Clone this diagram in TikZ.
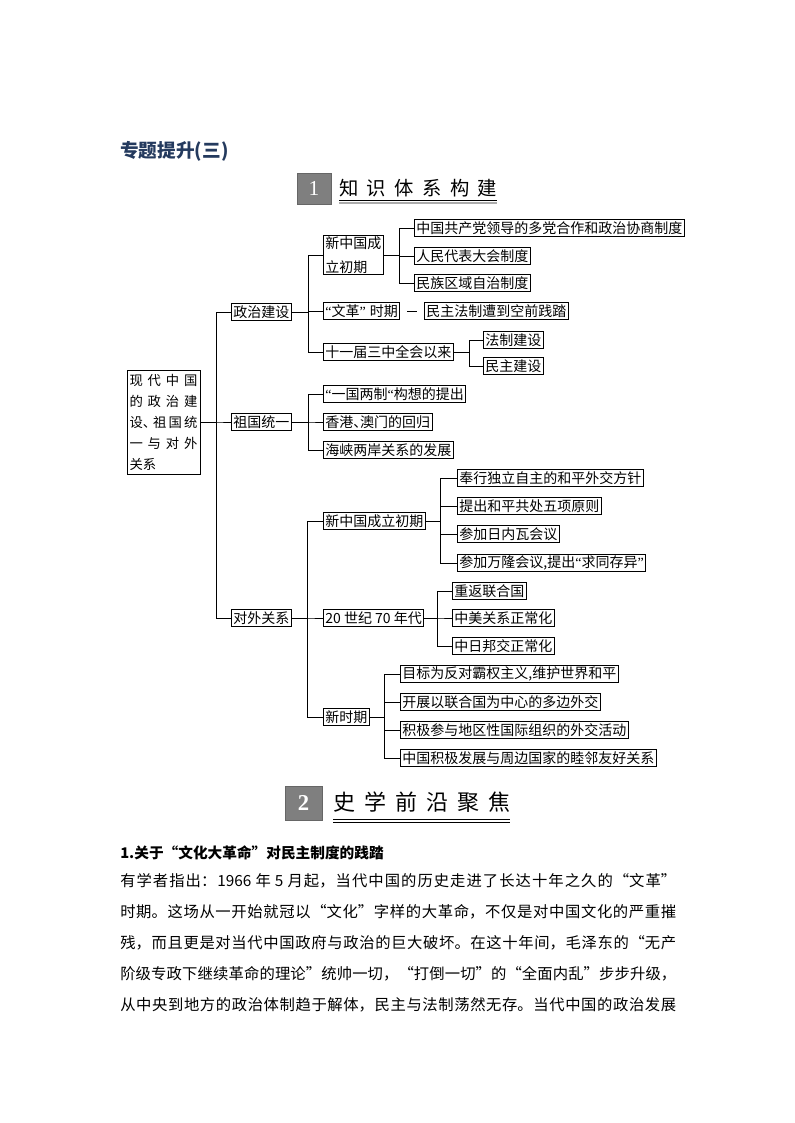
\documentclass[tikz,border=0pt]{standalone}
\usepackage{fontspec}
\setmainfont{Noto Sans CJK SC}
\newfontfamily\numfont{Liberation Serif}
\newfontfamily\qfont{Liberation Serif}
\newcommand\qo{{\qfont “}}
\newcommand\qc{{\qfont ”}}
\XeTeXlinebreaklocale "zh"
\XeTeXlinebreakskip = 0pt plus 2pt minus 0.2pt
\definecolor{titleblue}{HTML}{243A5E}
\definecolor{hgray}{HTML}{7F7F7F}
\newcommand\treefont{\fontsize{10.5pt}{12pt}\selectfont}
\newcommand\bodyfont{\fontsize{11.5pt}{14pt}\selectfont}
\newcommand\jline[1]{\parindent=0pt\leftskip=0pt\rightskip=0pt\parfillskip=0pt\tolerance=10000\relax #1\par}
\begin{document}
\begin{tikzpicture}[x=0.75pt,y=-0.75pt,
  box/.style={draw, line width=0.6pt, anchor=west, inner xsep=1.5pt, inner ysep=0pt, minimum height=13pt, font=\treefont},
  conn/.style={line width=0.6pt},
  hnum/.style={fill=hgray, draw=hgray!80!black, line width=0.4pt, text=white, inner sep=0pt},
  bodyline/.style={anchor=base west, inner sep=0pt, text width=417pt, align=justify, font=\bodyfont}
]
\useasboundingbox (0,0) rectangle (794,1123);
\fill[white] (0,0) rectangle (794,1123);

% title
\node[anchor=west, inner sep=0pt, font=\fontsize{14pt}{16pt}\selectfont\bfseries, text=titleblue] (title) at (120,151) {专题提升(三)};

% header 1
\node[hnum, minimum width=25.5pt, minimum height=23.25pt, font=\numfont\fontsize{16pt}{16pt}\selectfont] (n1) at (314,188.5) {1};
\node[anchor=west, inner sep=0pt, font=\fontsize{14.5pt}{16pt}\selectfont] (h1) at (339,188) {\makebox[118.5pt]{知\hfill{}识\hfill{}体\hfill{}系\hfill{}构\hfill{}建}};
\draw[line width=0.5pt] (339,200.5) -- (497,200.5);
\draw[line width=1.8pt, gray!65] (339,203.2) -- (497,203.2);

% root
\node[draw, line width=0.6pt, minimum width=54.75pt, minimum height=78pt, inner xsep=1.8pt, inner ysep=0pt, align=left, font=\fontsize{10pt}{15.75pt}\selectfont] (root) at (163.5,422)
 {\makebox[51pt]{现\hfill{}代\hfill{}中\hfill{}国}\\\makebox[51pt]{的\hfill{}政\hfill{}治\hfill{}建}\\\makebox[51pt]{设\makebox[6pt][l]{、}\hfill{}祖\hfill{}国\hfill{}统}\\\makebox[51pt]{一\hfill{}与\hfill{}对\hfill{}外}\\\makebox[51pt][l]{关系}};

% level 1
\node[box] (zz) at (231,312) {政治建设};
\node[box] (zg) at (231,422) {祖国统一};
\node[box] (dw) at (231,618) {对外关系};

% 政治建设 children
\node[box, align=left, inner ysep=1pt, font=\fontsize{10.5pt}{18pt}\selectfont] (a1) at (323,255) {新中国成\\立初期};
\node[box] (a2) at (323,311) {\qo{}文革\qc\hspace{3pt}时期};
\node[box] (a2x) at (424,311) {民主法制遭到空前践踏};
\node[box] (a3) at (323,352) {十一届三中全会以来};

\node[box] (b1) at (414,228) {中国共产党领导的多党合作和政治协商制度};
\node[box] (b2) at (414,256) {人民代表大会制度};
\node[box] (b3) at (414,283) {民族区域自治制度};

\node[box] (c1) at (483,340) {法制建设};
\node[box] (c2) at (483,366) {民主建设};

% 祖国统一 children
\node[box] (d1) at (323,394) {\qo{}一国两制\qo{}构想的提出};
\node[box] (d2) at (323,422) {香港\makebox[5pt][l]{、}澳门的回归};
\node[box] (d3) at (323,450) {海峡两岸关系的发展};

% 对外关系 children
\node[box] (e1) at (323,521) {新中国成立初期};
\node[box] (e2) at (323,618) {20 世纪 70 年代};
\node[box] (e3) at (323,717) {新时期};

\node[box] (f1) at (457,478) {奉行独立自主的和平外交方针};
\node[box] (f2) at (457,506) {提出和平共处五项原则};
\node[box] (f3) at (457,534) {参加日内瓦会议};
\node[box] (f4) at (457,563) {参加万隆会议,提出\qo{}求同存异\qc};

\node[box] (g1) at (452,591) {重返联合国};
\node[box] (g2) at (452,618) {中美关系正常化};
\node[box] (g3) at (452,646) {中日邦交正常化};

\node[box] (h1a) at (400,674) {目标为反对霸权主义,维护世界和平};
\node[box] (h2a) at (400,702) {开展以联合国为中心的多边外交};
\node[box] (h3a) at (400,730) {积极参与地区性国际组织的外交活动};
\node[box] (h4a) at (400,758) {中国积极发展与周边国家的睦邻友好关系};

% connectors
\foreach \c in {zz,zg,dw} \draw[conn] (root.east) -| ([xshift=-11.25pt]\c.west) -- (\c.west);
\foreach \c in {a1,a2,a3} \draw[conn] (zz.east) -| ([xshift=-11.25pt]\c.west) -- (\c.west);
\foreach \c in {b1,b2,b3} \draw[conn] (a1.east) -| ([xshift=-11.25pt]\c.west) -- (\c.west);
\foreach \c in {c1,c2} \draw[conn] (a3.east) -| ([xshift=-10.5pt]\c.west) -- (\c.west);
\draw[conn, shorten <=5.25pt, shorten >=5.25pt] (a2.east) -- (a2x.west);
\foreach \c in {d1,d2,d3} \draw[conn] (zg.east) -| ([xshift=-11.25pt]\c.west) -- (\c.west);
\foreach \c in {e1,e2,e3} \draw[conn] (dw.east) -| ([xshift=-12pt]\c.west) -- (\c.west);
\foreach \c in {f1,f2,f3,f4} \draw[conn] (e1.east) -| ([xshift=-12.75pt]\c.west) -- (\c.west);
\foreach \c in {g1,g2,g3} \draw[conn] (e2.east) -| ([xshift=-11.25pt]\c.west) -- (\c.west);
\foreach \c in {h1a,h2a,h3a,h4a} \draw[conn] (e3.east) -| ([xshift=-12pt]\c.west) -- (\c.west);

% header 2
\node[hnum, minimum width=27.75pt, minimum height=25.5pt, font=\numfont\bfseries\fontsize{17pt}{17pt}\selectfont] (n2) at (303.5,803) {2};
\node[anchor=west, inner sep=0pt, font=\fontsize{16.5pt}{18pt}\selectfont] (h2) at (333,802) {\makebox[132.75pt]{史\hfill{}学\hfill{}前\hfill{}沿\hfill{}聚\hfill{}焦}};
\draw[line width=0.6pt] (333,819.5) -- (510,819.5);
\draw[line width=0.6pt] (333,822.5) -- (510,822.5);

% text
\node[anchor=base west, inner sep=0pt, font=\fontsize{11pt}{13pt}\selectfont\bfseries] (q1) at (120,858) {1.关于“文化大革命”对民主制度的践踏};
\node[bodyline] (l1) at (120,886) {\jline{有学者指出：1966 年 5 月起，当代中国的历史走进了长达十年之久的“文革”}};
\node[bodyline] (l2) at (120,917) {\jline{时期。这场从一开始就冠以“文化”字样的大革命，不仅是对中国文化的严重摧}};
\node[bodyline] (l3) at (120,948) {\jline{残，而且更是对当代中国政府与政治的巨大破坏。在这十年间，毛泽东的“无产}};
\node[bodyline] (l4) at (120,979) {\jline{阶级专政下继续革命的理论”统帅一切，“打倒一切”的“全面内乱”步步升级，}};
\node[bodyline] (l5) at (120,1010) {\jline{从中央到地方的政治体制趋于解体，民主与法制荡然无存。当代中国的政治发展}};
\end{tikzpicture}
\end{document}
